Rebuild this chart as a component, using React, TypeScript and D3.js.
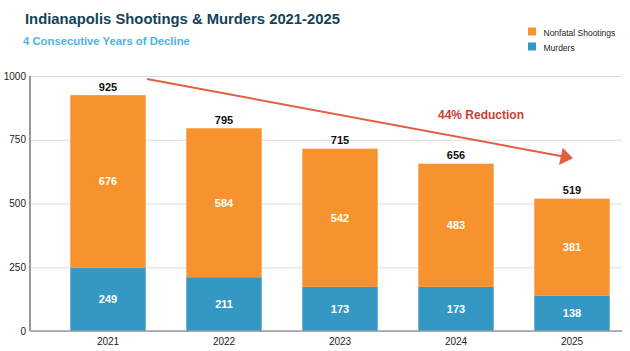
import { useEffect, useRef } from 'react';
import * as d3 from 'd3';

const years = ['2021', '2022', '2023', '2024', '2025'];
const murders = [249, 211, 173, 173, 138];
const nonfatalShootings = [676, 584, 542, 483, 381];
const yTicks = [0, 250, 500, 750, 1000];
const reductionLabel = '44% Reduction';

const WIDTH = 630;
const HEIGHT = 351;
const ORANGE = '#f6932f';
const BLUE = '#3597c4';

export default function App() {
  const svgRef = useRef<SVGSVGElement>(null);

  useEffect(() => {
    document.body.style.margin = '0';
    const svg = d3.select(svgRef.current);
    svg.selectAll('*').remove();

    const font = 'Liberation Sans, Arial, sans-serif';
    const xScale = d3.scaleBand().domain(years).range([50, 630]).paddingInner(0.35).paddingOuter(0.175);
    const yScale = d3.scaleLinear().domain([0, 1000]).range([331, 76]);
    const left = 30;
    const right = 622;

    // title
    svg.append('text')
      .attr('x', 25).attr('y', 23.5)
      .attr('font-family', font).attr('font-size', 14.8).attr('font-weight', 'bold')
      .attr('fill', '#124458')
      .text('Indianapolis Shootings & Murders 2021-2025');
    svg.append('text')
      .attr('x', 23).attr('y', 45)
      .attr('font-family', font).attr('font-size', 11.3).attr('font-weight', 'bold')
      .attr('fill', '#4cb3e6')
      .text('4 Consecutive Years of Decline');

    // legend
    const legend = [
      { label: 'Nonfatal Shootings', color: ORANGE },
      { label: 'Murders', color: BLUE }
    ];
    const lg = svg.append('g').attr('transform', 'translate(528,27.5)');
    legend.forEach((d, i) => {
      lg.append('rect').attr('x', 0).attr('y', i * 15).attr('width', 8).attr('height', 8).attr('fill', d.color);
      lg.append('text')
        .attr('x', 15.5).attr('y', i * 15 + 8)
        .attr('font-family', font).attr('font-size', 8.5).attr('fill', '#222')
        .text(d.label);
    });

    // grid + y axis
    svg.append('g')
      .call(d3.axisLeft(yScale).tickValues(yTicks).tickFormat(d3.format('d')).tickSize(0).tickPadding(4))
      .attr('transform', `translate(${left},0)`)
      .call((g) => {
        g.select('.domain').remove();
        g.selectAll('text').attr('font-family', font).attr('font-size', 10).attr('fill', '#222');
        g.selectAll('.tick')
          .append('line')
          .attr('x2', right - left)
          .attr('stroke', '#dcdcdc')
          .attr('stroke-width', 1);
      });
    svg.append('line')
      .attr('x1', left).attr('x2', left).attr('y1', yScale(1000)).attr('y2', yScale(0))
      .attr('stroke', '#333').attr('stroke-width', 1);

    // bars
    const rows = years.map((year, i) => ({ year, murders: murders[i], nonfatal: nonfatalShootings[i] }));
    const bars = svg.append('g');
    rows.forEach((d) => {
      const x = xScale(d.year)!;
      const bw = xScale.bandwidth();
      const cx = x + bw / 2;
      const total = d.murders + d.nonfatal;
      bars.append('rect')
        .attr('x', x).attr('width', bw)
        .attr('y', yScale(d.murders)).attr('height', yScale(0) - yScale(d.murders))
        .attr('fill', BLUE);
      bars.append('rect')
        .attr('x', x).attr('width', bw)
        .attr('y', yScale(total)).attr('height', yScale(d.murders) - yScale(total))
        .attr('fill', ORANGE);
      const labels = [
        { v: d.murders, y: (yScale(0) + yScale(d.murders)) / 2 },
        { v: d.nonfatal, y: (yScale(d.murders) + yScale(total)) / 2 }
      ];
      labels.forEach((l) => {
        bars.append('text')
          .attr('x', cx).attr('y', l.y).attr('dy', '0.35em')
          .attr('text-anchor', 'middle')
          .attr('font-family', font).attr('font-size', 11).attr('font-weight', 'bold')
          .attr('fill', '#fff')
          .text(l.v);
      });
      bars.append('text')
        .attr('x', cx).attr('y', yScale(total) - 4.5)
        .attr('text-anchor', 'middle')
        .attr('font-family', font).attr('font-size', 11).attr('font-weight', 'bold')
        .attr('fill', '#111')
        .text(total);
    });

    // x axis
    svg.append('g')
      .attr('transform', `translate(0,${yScale(0)})`)
      .call(d3.axisBottom(xScale).tickSize(0).tickPadding(7))
      .call((g) => {
        g.select('.domain').remove();
        g.selectAll('text').attr('font-family', font).attr('font-size', 10).attr('fill', '#222');
      });
    svg.append('line')
      .attr('x1', left).attr('x2', right).attr('y1', yScale(0)).attr('y2', yScale(0))
      .attr('stroke', '#9a9a9a').attr('stroke-width', 1.6);

    // trend arrow
    svg.append('line')
      .attr('x1', 147).attr('y1', 79).attr('x2', 566).attr('y2', 157)
      .attr('stroke', '#e0603f').attr('stroke-width', 2);
    svg.append('path')
      .attr('d', 'M562.7,147.7 L573,158.3 L559,165 Z')
      .attr('fill', '#e0603f');
    svg.append('text')
      .attr('x', 438).attr('y', 118.5)
      .attr('font-family', font).attr('font-size', 12).attr('font-weight', 'bold')
      .attr('fill', '#cf3e35')
      .text(reductionLabel);
  }, []);

  return <svg ref={svgRef} width={WIDTH} height={HEIGHT} style={{ display: 'block', background: '#fff' }} />;
}
